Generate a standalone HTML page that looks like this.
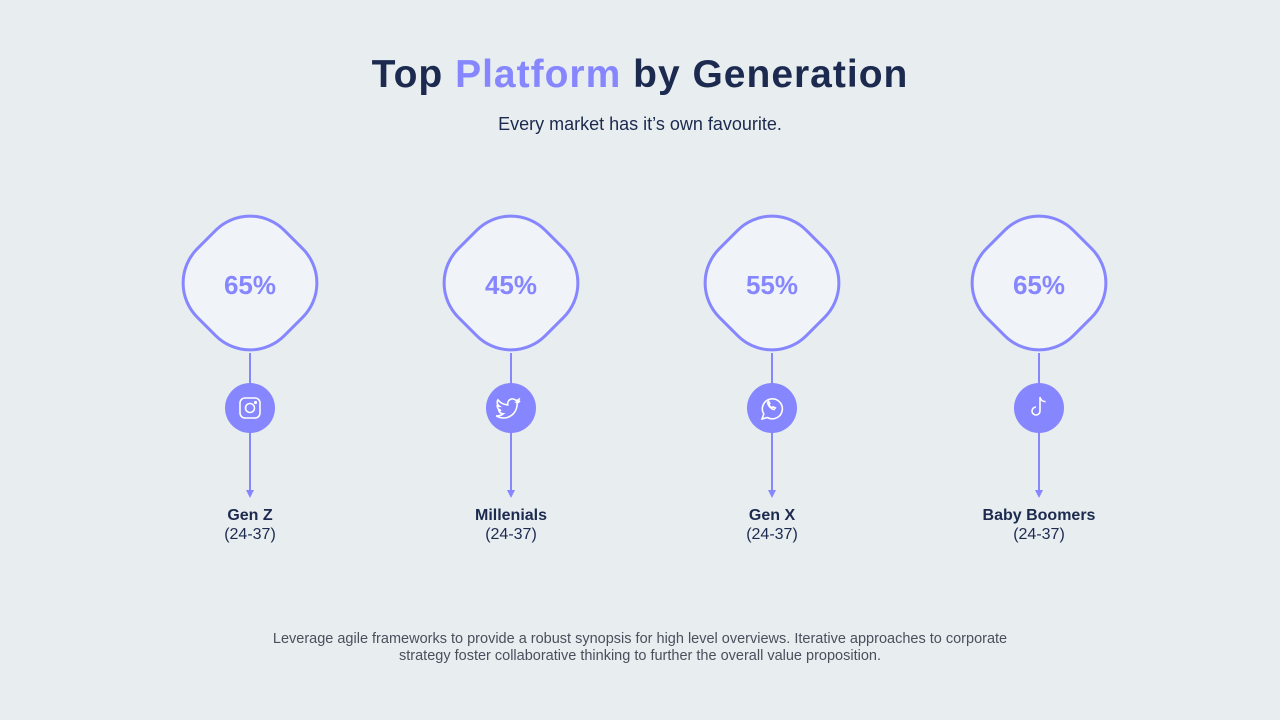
<!DOCTYPE html>
<html><head><meta charset="utf-8"><style>
body{margin:0;width:1280px;height:720px;background:#e8edf0;font-family:"Liberation Sans",sans-serif;position:relative;overflow:hidden}
.t{position:absolute;left:0;width:1280px;text-align:center}
h1{position:absolute;left:0;width:1280px;text-align:center;top:53px;margin:0;font-size:39px;letter-spacing:1px;font-weight:bold;color:#1b2a4e}
.d{position:absolute;width:126px;height:126px;border:3px solid #8686ff;border-radius:50px;background:#f0f4f8;transform:rotate(45deg);box-sizing:border-box}
.p{position:absolute;width:140px;text-align:center;font-size:26px;font-weight:bold;color:#8686ff}
.l{position:absolute;width:2px;background:#8686ff}
.c{position:absolute;width:50px;height:50px;border-radius:50%;background:#8686ff}
.a{position:absolute;width:0;height:0;border-left:4px solid transparent;border-right:4px solid transparent;border-top:8px solid #8686ff}
.n{position:absolute;width:200px;text-align:center;font-size:16px;color:#1b2a4e;line-height:19px}
</style></head><body>
<h1>Top <span style="color:#8686ff">Platform</span> by Generation</h1>
<div class="t" style="top:114px;font-size:18px;color:#1b2a4e">Every market has it’s own favourite.</div>
<div class="t" style="top:631px;font-size:14.5px;color:#4a4f5c;line-height:17px">Leverage agile frameworks to provide a robust synopsis for high level overviews. Iterative approaches to corporate<br>strategy foster collaborative thinking to further the overall value proposition.</div>

<div class="d" style="left:187px;top:220px"></div><div class="p" style="left:180px;top:270px">65%</div>
<div class="l" style="left:249px;top:353px;height:140px"></div><div class="c" style="left:225px;top:383px"></div><div class="a" style="left:246px;top:490px"></div>
<div class="n" style="left:150px;top:506px"><b>Gen Z</b><br>(24-37)</div>

<div class="d" style="left:448px;top:220px"></div><div class="p" style="left:441px;top:270px">45%</div>
<div class="l" style="left:510px;top:353px;height:140px"></div><div class="c" style="left:486px;top:383px"></div><div class="a" style="left:507px;top:490px"></div>
<div class="n" style="left:411px;top:506px"><b>Millenials</b><br>(24-37)</div>

<div class="d" style="left:709px;top:220px"></div><div class="p" style="left:702px;top:270px">55%</div>
<div class="l" style="left:771px;top:353px;height:140px"></div><div class="c" style="left:747px;top:383px"></div><div class="a" style="left:768px;top:490px"></div>
<div class="n" style="left:672px;top:506px"><b>Gen X</b><br>(24-37)</div>

<div class="d" style="left:976px;top:220px"></div><div class="p" style="left:969px;top:270px">65%</div>
<div class="l" style="left:1038px;top:353px;height:140px"></div><div class="c" style="left:1014px;top:383px"></div><div class="a" style="left:1035px;top:490px"></div>
<div class="n" style="left:939px;top:506px"><b>Baby Boomers</b><br>(24-37)</div>

<svg width="1280" height="720" style="position:absolute;left:0;top:0" fill="none" stroke="#fff" stroke-width="1.6">
<rect x="240" y="398" width="20" height="20" rx="5"/><circle cx="250" cy="408" r="4.5"/><circle cx="255.5" cy="402.5" r="0.8" fill="#fff"/>
<path d="M520 401c-1 .5-2 .7-3 .8 1-.7 1.7-1.5 2-2.5-1 .6-2 1-3 1.2a4.8 4.8 0 0 0-8.2 4.4c-4-.2-7.5-2-9.9-5-1.3 2.2-.6 5 1.5 6.4-.8 0-1.5-.2-2.2-.6 0 2.3 1.6 4.3 3.8 4.7-.7.2-1.4.2-2.2.1.6 1.9 2.4 3.2 4.5 3.3-2 1.6-4.6 2.3-7.1 2 9.8 6 21-1 21-12.5z"/>
<path d="M762 419l1.8-5a10 10 0 1 1 3.6 3.5z"/><path d="M767.5 402.5c.5 3.2 3.2 6.2 6.5 7l1.3-1.6-2.2-1.1-1 1c-1.5-.6-2.7-1.8-3.3-3.3l1-1-1.1-2.2z"/>
<path d="M1040 397v14a4 4 0 1 1-4-4M1040 397c.5 2.8 2.7 4.6 5.5 4.7"/>
</svg>
</body></html>
